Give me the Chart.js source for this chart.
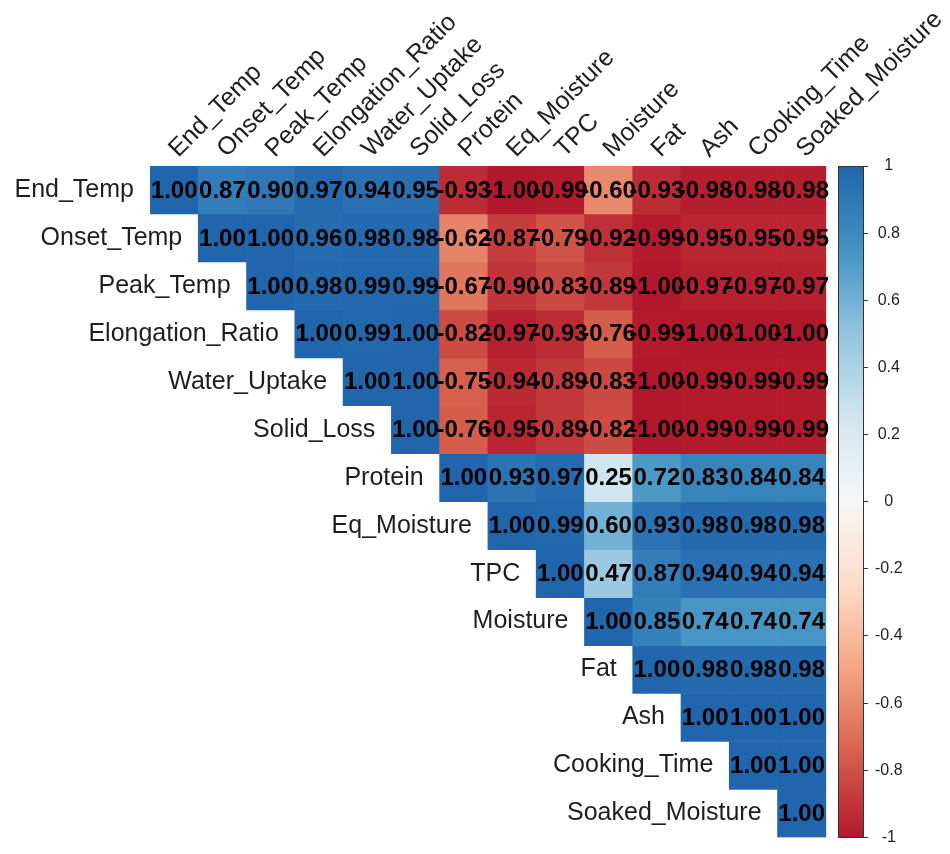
<!DOCTYPE html>
<html>
<head>
<meta charset="utf-8">
<script src="https://cdn.jsdelivr.net/npm/chart.js@4/dist/chart.umd.min.js"></script>
<style>
  html, body { margin: 0; padding: 0; background: #ffffff; }
  #wrap { width: 950px; height: 854px; }
</style>
</head>
<body>
<div id="wrap"><canvas id="corr" width="950" height="854"></canvas></div>
<script>
// Variable names, in matrix order
const variables = [
  'End_Temp', 'Onset_Temp', 'Peak_Temp', 'Elongation_Ratio', 'Water_Uptake',
  'Solid_Loss', 'Protein', 'Eq_Moisture', 'TPC', 'Moisture', 'Fat', 'Ash',
  'Cooking_Time', 'Soaked_Moisture'
];

// Upper triangle of the correlation matrix; each row starts at its diagonal
const rowEndTemp        = [1.00, 0.87, 0.90, 0.97, 0.94, 0.95, -0.93, -1.00, -0.99, -0.60, -0.93, -0.98, -0.98, -0.98];
const rowOnsetTemp      = [1.00, 1.00, 0.96, 0.98, 0.98, -0.62, -0.87, -0.79, -0.92, -0.99, -0.95, -0.95, -0.95];
const rowPeakTemp       = [1.00, 0.98, 0.99, 0.99, -0.67, -0.90, -0.83, -0.89, -1.00, -0.97, -0.97, -0.97];
const rowElongation     = [1.00, 0.99, 1.00, -0.82, -0.97, -0.93, -0.76, -0.99, -1.00, -1.00, -1.00];
const rowWaterUptake    = [1.00, 1.00, -0.75, -0.94, -0.89, -0.83, -1.00, -0.99, -0.99, -0.99];
const rowSolidLoss      = [1.00, -0.76, -0.95, -0.89, -0.82, -1.00, -0.99, -0.99, -0.99];
const rowProtein        = [1.00, 0.93, 0.97, 0.25, 0.72, 0.83, 0.84, 0.84];
const rowEqMoisture     = [1.00, 0.99, 0.60, 0.93, 0.98, 0.98, 0.98];
const rowTPC            = [1.00, 0.47, 0.87, 0.94, 0.94, 0.94];
const rowMoisture       = [1.00, 0.85, 0.74, 0.74, 0.74];
const rowFat            = [1.00, 0.98, 0.98, 0.98];
const rowAsh            = [1.00, 1.00, 1.00];
const rowCookingTime    = [1.00, 1.00];
const rowSoakedMoisture = [1.00];

const corrRows = [
  rowEndTemp, rowOnsetTemp, rowPeakTemp, rowElongation, rowWaterUptake, rowSolidLoss,
  rowProtein, rowEqMoisture, rowTPC, rowMoisture, rowFat, rowAsh, rowCookingTime, rowSoakedMoisture
];

// Colour bar tick values
const colorbarTicks = [1, 0.8, 0.6, 0.4, 0.2, 0, -0.2, -0.4, -0.6, -0.8, -1];

// Diverging red-blue palette from -1 to 1
const paletteStops = ['#B2182B', '#D6604D', '#F4A582', '#FDDBC7', '#F7F7F7', '#D1E5F0', '#92C5DE', '#4393C3', '#2166AC'];

// Layout of the colour bar, in cell units to the right of the matrix
const CB_GAP = 0.25;
const CB_WIDTH = 0.52;
const N = variables.length;

function hexToRgb(h) {
  const n = parseInt(h.slice(1), 16);
  return [(n >> 16) & 255, (n >> 8) & 255, n & 255];
}
const paletteRgb = paletteStops.map(hexToRgb);

function corrColor(v) {
  const t = (Math.max(-1, Math.min(1, v)) + 1) / 2 * (paletteRgb.length - 1);
  const i = Math.min(paletteRgb.length - 2, Math.floor(t));
  const f = t - i;
  const a = paletteRgb[i], b = paletteRgb[i + 1];
  const c = a.map((x, k) => Math.round(x + (b[k] - x) * f));
  return `rgb(${c[0]},${c[1]},${c[2]})`;
}

const FONT = '"Liberation Sans", Arial, Helvetica, sans-serif';
const TEXT_COLOR = '#1e1e1e';

// Labels, cell values and the colour bar gradient
const corrDecor = {
  id: 'corrDecor',
  afterDatasetsDraw(chart) {
    const ctx = chart.ctx;
    const xs = chart.scales.x, ys = chart.scales.y, cb = chart.scales.cb;

    ctx.save();
    // cell values
    ctx.font = `bold 24px ${FONT}`;
    ctx.fillStyle = '#000';
    ctx.textAlign = 'center';
    ctx.textBaseline = 'middle';
    corrRows.forEach((row, i) => {
      row.forEach((v, k) => {
        const j = i + k;
        ctx.fillText(v.toFixed(2), xs.getPixelForValue(j + 0.5), ys.getPixelForValue(i + 0.5) + 1);
      });
    });

    // row labels, right-aligned beside the diagonal
    ctx.font = `25px ${FONT}`;
    ctx.fillStyle = TEXT_COLOR;
    ctx.textAlign = 'right';
    variables.forEach((name, i) => {
      ctx.fillText(name, xs.getPixelForValue(i) - 16, ys.getPixelForValue(i + 0.5));
    });

    // column labels, rotated 45 degrees above the matrix
    ctx.textAlign = 'left';
    ctx.textBaseline = 'alphabetic';
    const top = ys.getPixelForValue(0);
    variables.forEach((name, j) => {
      ctx.save();
      ctx.translate(xs.getPixelForValue(j + 0.5) + 4, top - 8);
      ctx.rotate(-Math.PI / 4);
      ctx.fillText(name, 0, 0);
      ctx.restore();
    });

    // colour bar
    const x0 = Math.round(xs.getPixelForValue(N + CB_GAP)) + 0.5;
    const x1 = Math.round(chart.chartArea.right) + 0.5;
    const yTop = cb.getPixelForValue(1), yBot = cb.getPixelForValue(-1);
    const grad = ctx.createLinearGradient(0, yBot, 0, yTop);
    paletteStops.forEach((c, k) => grad.addColorStop(k / (paletteStops.length - 1), c));
    ctx.fillStyle = grad;
    ctx.fillRect(x0, yTop, x1 - x0, yBot - yTop);
    ctx.strokeStyle = '#333';
    ctx.lineWidth = 1;
    ctx.strokeRect(x0, Math.round(yTop) + 0.5, x1 - x0, Math.round(yBot - yTop));
    ctx.restore();
  }
};

const datasets = corrRows.map((row, i) => ({
  label: variables[i],
  data: row.map((v, k) => ({ x: i + k + 0.5, y: [i, i + 1], v })),
  backgroundColor: (c) => (c.raw ? corrColor(c.raw.v) : '#ffffff'),
  borderWidth: 0,
  grouped: false,
  barPercentage: 1,
  categoryPercentage: 1,
  xAxisID: 'x',
  yAxisID: 'y'
}));

new Chart(document.getElementById('corr'), {
  type: 'bar',
  data: { datasets },
  options: {
    responsive: false,
    devicePixelRatio: 1,
    animation: false,
    events: [],
    layout: { padding: { left: 150, top: 166, right: 0, bottom: 12 } },
    plugins: { legend: { display: false }, tooltip: { enabled: false } },
    scales: {
      x: {
        type: 'linear', display: false, offset: false,
        min: 0, max: N + CB_GAP + CB_WIDTH,
        ticks: { stepSize: 1, includeBounds: false }
      },
      y: {
        type: 'linear', display: false, reverse: true,
        min: 0, max: N,
        ticks: { stepSize: 1 }
      },
      cb: {
        type: 'linear', position: 'right',
        min: -1, max: 1,
        afterBuildTicks: (s) => { s.ticks = colorbarTicks.map(v => ({ value: v })); },
        afterFit: (s) => { s.width = 87; },
        ticks: {
          padding: 7,
          crossAlign: 'center',
          color: TEXT_COLOR,
          font: { family: FONT, size: 16 },
          callback: (v) => String(Math.round(v * 10) / 10)
        },
        grid: { drawOnChartArea: false, drawTicks: true, tickLength: 5, color: '#333' },
        border: { display: true, color: '#333' }
      }
    }
  },
  plugins: [corrDecor]
});
</script>
</body>
</html>
